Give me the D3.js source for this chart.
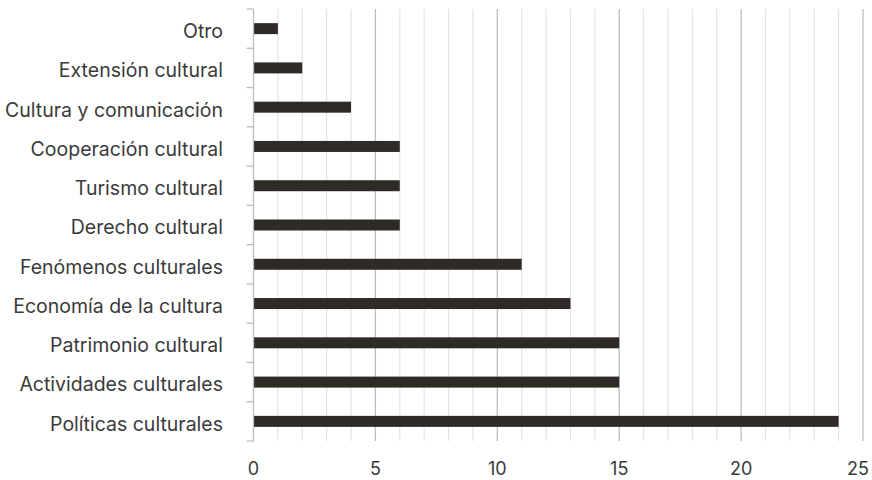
<!DOCTYPE html>
<html><head><meta charset="utf-8">
<script src="https://cdn.jsdelivr.net/npm/d3@7"></script>
<style>body{margin:0;background:#fff}svg{display:block}text{font-family:Inter,"Noto Sans",sans-serif;fill:#3a3a3a}</style>
</head><body><svg id="c" width="872" height="480"></svg>
<script>
const categories = ["Otro","Extensión cultural","Cultura y comunicación","Cooperación cultural","Turismo cultural","Derecho cultural","Fenómenos culturales","Economía de la cultura","Patrimonio cultural","Actividades culturales","Políticas culturales"];
const values = [1,2,4,6,6,6,11,13,15,15,24];
const xTicks = [0,5,10,15,20,25];

const svg = d3.select("#c");
const mL = 253.5, mR = 863, mT = 9, mB = 441;
const x = d3.scaleLinear().domain([0,25]).range([mL,mR]);
const y = d3.scaleBand().domain(categories).range([mT,mB]).paddingInner(0.72).paddingOuter(0.36);
const yb = d3.scaleBand().domain(categories).range([mT,mB]);

// minor grid
svg.append("g").selectAll("line").data(d3.range(1,26).filter(v=>v%5!==0)).join("line")
  .attr("x1",d=>x(d)).attr("x2",d=>x(d)).attr("y1",mT).attr("y2",mB)
  .attr("stroke","#e3e3e3").attr("stroke-width",1.2);
// major grid
svg.append("g").selectAll("line").data(xTicks.filter(v=>v>0)).join("line")
  .attr("x1",d=>x(d)).attr("x2",d=>x(d)).attr("y1",mT).attr("y2",mB)
  .attr("stroke","#bdbdbd").attr("stroke-width",1.3);

// bars
svg.append("g").selectAll("rect").data(values).join("rect")
  .attr("x",x(0)).attr("y",(d,i)=>y(categories[i]))
  .attr("width",d=>x(d)-x(0)).attr("height",y.bandwidth())
  .attr("fill","#2e2a25");

// y axis line and ticks
const ax = svg.append("g");
ax.append("line").attr("x1",mL).attr("x2",mL).attr("y1",mT).attr("y2",mB).attr("stroke","#bdbdbd").attr("stroke-width",1.3);
const bounds = categories.map(c=>yb(c)).concat([mB]);
ax.selectAll("line.t").data(bounds).join("line").attr("class","t")
  .attr("x1",mL-7).attr("x2",mL).attr("y1",d=>d).attr("y2",d=>d)
  .attr("stroke","#bdbdbd").attr("stroke-width",1.3);

// y labels
svg.append("g").selectAll("text").data(categories).join("text")
  .attr("x",223).attr("y",d=>yb(d)+yb.bandwidth()/2+2.5).attr("dy","0.35em")
  .attr("text-anchor","end").attr("font-size",19.5).text(d=>d);

// x labels (kept inside the canvas like the original)
svg.append("g").selectAll("text").data(xTicks).join("text")
  .attr("y",474.5)
  .attr("text-anchor","middle").attr("font-size",18).text(d=>d)
  .each(function(d){
    const w = this.getComputedTextLength();
    d3.select(this).attr("x", Math.min(x(d), 869 - w/2));
  });
</script></body></html>
